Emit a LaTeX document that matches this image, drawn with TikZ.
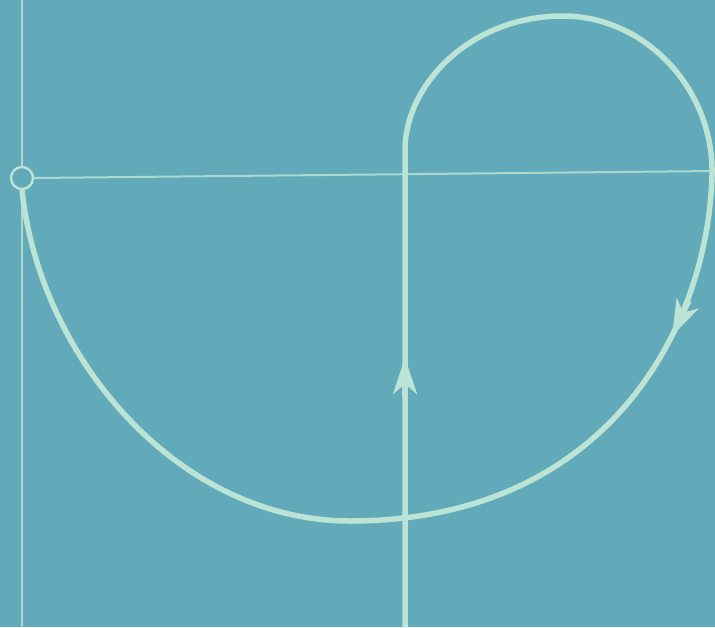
\documentclass[tikz,border=0pt]{standalone}
\usetikzlibrary{arrows.meta}
\definecolor{bg}{RGB}{98,170,186}
\definecolor{chalk}{RGB}{188,228,214}
\definecolor{chalkthin}{RGB}{172,216,208}
\tikzset{
  thinline/.style={draw=chalkthin, line width=2pt},
  thickline/.style={draw=chalk, line width=5.5pt, line join=round},
  tip/.style={-{Stealth[length=36pt,width=24pt,inset=10pt]}, draw=chalk, fill=chalk, line width=5.5pt},
  ring/.style={circle, draw=chalk, line width=2.4pt, minimum size=22pt, inner sep=0pt}
}
\begin{document}
\begin{tikzpicture}[x=1pt,y=-1pt]
\useasboundingbox[fill=bg] (0,0) rectangle (715,627);
\node[ring] (o) at (22,178) {};
\coordinate (vtop) at (22,0);
\coordinate (vbot) at (22,627);
\coordinate (hend) at (715,171);
\coordinate (bot) at (405,627);
\coordinate (t1) at (405,397);
\coordinate (h1) at (405,358);
\coordinate (t2) at (689,300.5);
\coordinate (h2) at (672,336);
\draw[thinline] (vtop) -- (o.north);
\draw[thinline] (o.south) -- (vbot);
\draw[thinline] (o.east) -- (hend);
\draw[thickline] (o.south)
  .. controls (40,360) and (180,521) .. (350,521)
  .. controls (605,521) and (708,330) .. (712,175)
  .. controls (714,89) and (645,16) .. (563,16)
  .. controls (470,16) and (405,85) .. (405,150)
  -- (bot);
\draw[tip] (t1) -- (h1);
\draw[tip] (t2) -- (h2);
\end{tikzpicture}
\end{document}
